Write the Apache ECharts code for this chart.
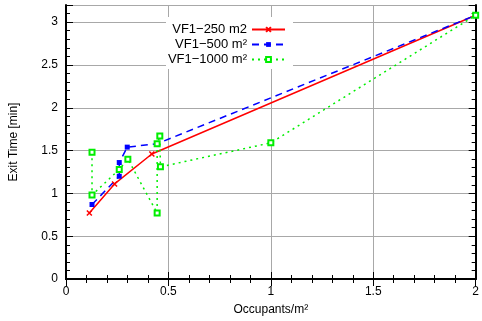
<!DOCTYPE html>
<html>
<head>
<meta charset="utf-8">
<script src="https://cdn.jsdelivr.net/npm/echarts@6/dist/echarts.min.js"></script>
<style>
  html, body { margin: 0; padding: 0; background: #fff; }
  #chart { width: 482px; height: 321px; }
</style>
</head>
<body>
<div id="chart"></div>
<script>
// values
const names = ["VF1\u2212250 m2", "VF1\u2212500 m\u00b2", "VF1\u22121000 m\u00b2"];

const x250 = [0.114, 0.237, 0.419, 2.0];
const y250 = [0.77, 1.11, 1.46, 3.08];

const x500 = [0.127, 0.26, 0.26, 0.299, 0.445, 2.0];
const y500 = [0.87, 1.20, 1.36, 1.54, 1.58, 3.08];

const x1000 = [0.127, 0.127, 0.26, 0.302, 0.445, 0.445, 0.458, 0.461, 1.0, 2.0];
const y1000 = [1.48, 0.98, 1.28, 1.40, 0.77, 1.58, 1.67, 1.31, 1.59, 3.08];

const font = "Liberation Sans";
const pairs = (xs, ys) => xs.map((x, i) => [x, ys[i]]);
// y labels only on multiples of 0.5
const halfStep = v => Math.abs(v * 2 - Math.round(v * 2)) < 1e-6;

const chart = echarts.init(document.getElementById("chart"));

const frame = { show: true, lineStyle: { color: "#000", width: 2 } };
const grey = { show: true, lineStyle: { color: "#a8a8a8", width: 1 } };
const tick = len => ({ show: true, inside: true, length: len, lineStyle: { color: "#000" } });

const xBase = {
  type: "value", min: 0, max: 2, interval: 0.5,
  axisLine: frame,
  axisTick: tick(7),
  minorTick: { show: true, splitNumber: 5, length: 4, lineStyle: { color: "#000" } }
};

chart.setOption({
  animation: false,
  textStyle: { fontFamily: font },
  grid: { left: 64, right: 6, top: 5, bottom: 38 },
  xAxis: [
    Object.assign({}, xBase, {
      position: "bottom",
      name: "Occupants/m\u00b2", nameLocation: "middle", nameGap: 25,
      nameTextStyle: { fontSize: 12, color: "#000", fontFamily: font },
      axisLabel: { margin: 7, fontSize: 12, color: "#000", fontFamily: font },
      splitLine: grey
    }),
    Object.assign({}, xBase, {
      position: "top",
      axisLabel: { show: false },
      splitLine: { show: false }
    })
  ],
  yAxis: [
    {
      // fine ticks + labels, left
      type: "value", min: 0, max: 3.2, interval: 0.1, position: "left",
      name: "Exit Time [min]", nameLocation: "middle", nameGap: 46,
      nameTextStyle: { fontSize: 12, color: "#000", fontFamily: font },
      axisLine: frame,
      axisTick: tick(4),
      axisLabel: {
        margin: 8, fontSize: 12, color: "#000", fontFamily: font,
        formatter: v => (halfStep(v) && v < 3.1 ? String(+v.toFixed(1)) : "")
      },
      splitLine: { show: false }
    },
    {
      // major ticks + grid, left
      type: "value", min: 0, max: 3.2, interval: 0.5, position: "left",
      axisLine: { show: false },
      axisTick: tick(7),
      axisLabel: { show: false },
      splitLine: grey
    },
    {
      type: "value", min: 0, max: 3.2, interval: 0.1, position: "right",
      axisLine: frame,
      axisTick: tick(4),
      axisLabel: { show: false },
      splitLine: { show: false }
    },
    {
      type: "value", min: 0, max: 3.2, interval: 0.5, position: "right",
      axisLine: { show: false },
      axisTick: tick(7),
      axisLabel: { show: false },
      splitLine: { show: false }
    }
  ],
  graphic: [{
    type: "rect", left: 166, top: 17, z: 1,
    shape: { width: 127, height: 52 },
    style: { fill: "#fff" }
  }],
  legend: names.map((n, i) => ({
    data: [n],
    right: 196, top: 23 + i * 15,
    align: "right", padding: 0,
    itemWidth: 33, itemHeight: 6,
    textStyle: { fontSize: 13, color: "#000", fontFamily: font }
  })),
  series: [
    {
      name: names[0], type: "line", data: pairs(x250, y250),
      symbol: "path://M0,0L10,10M0,10L10,0", symbolSize: 5,
      itemStyle: { color: "#ff0000", borderColor: "#ff0000", borderWidth: 1.5 },
      lineStyle: { color: "#ff0000", width: 1.5 }
    },
    {
      name: names[1], type: "line", data: pairs(x500, y500),
      symbol: "rect", symbolSize: 5,
      itemStyle: { color: "#0000ff", borderWidth: 0 },
      lineStyle: { color: "#0000ff", width: 1.5, type: [7, 5] }
    },
    {
      name: names[2], type: "line", data: pairs(x1000, y1000),
      symbol: "emptyRect", symbolSize: 5,
      itemStyle: { color: "#00ee00", borderColor: "#00ee00", borderWidth: 1.2 },
      lineStyle: { color: "#00ee00", width: 1.5, type: [2, 4] }
    }
  ]
});
</script>
</body>
</html>
